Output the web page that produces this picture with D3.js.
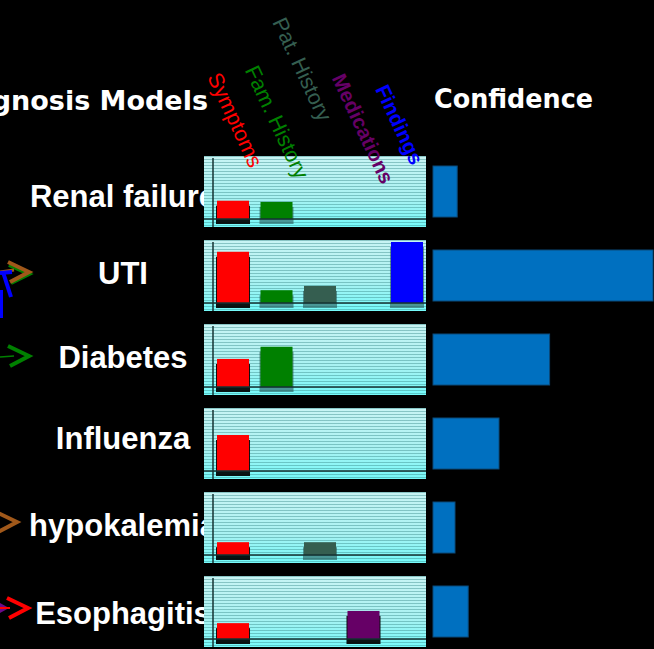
<!DOCTYPE html>
<html>
<head>
<meta charset="utf-8">
<script src="https://cdn.jsdelivr.net/npm/d3@7"></script>
<style>
  html, body { margin: 0; padding: 0; background: #000; }
  svg { display: block; }
</style>
</head>
<body>
<script>
// diagnosis models and the evidence factors
const diagnoses = ["Renal failure", "UTI", "Diabetes", "Influenza", "hypokalemia", "Esophagitis"];
const factors = ["Symptoms", "Fam. History", "Pat. History", "Medications", "Findings"];

// per-factor contribution for each diagnosis (0..1)
const symptoms    = [0.30, 0.84, 0.46, 0.59, 0.21, 0.26];
const famHistory  = [0.28, 0.21, 0.66, 0,    0,    0];
const patHistory  = [0,    0.28, 0,    0,    0.21, 0];
const medications = [0,    0,    0,    0,    0,    0.46];
const findings    = [0,    1.00, 0,    0,    0,    0];

// overall confidence
const confidence = [0.11, 1.00, 0.53, 0.30, 0.10, 0.16];

let W = 654, H = 649;

let svg = d3.select("body").append("svg")
    .attr("width", W)
    .attr("height", H);

let defs = svg.append("defs");

let grad = defs.append("linearGradient")
    .attr("id", "panelGrad")
    .attr("x1", 0).attr("y1", 0).attr("x2", 0).attr("y2", 1);
grad.append("stop").attr("offset", "0%").attr("stop-color", "#c8f4f4");
grad.append("stop").attr("offset", "60%").attr("stop-color", "#a8f2f2");
grad.append("stop").attr("offset", "100%").attr("stop-color", "#74fafa");

let stripes = defs.append("pattern")
    .attr("id", "stripes")
    .attr("patternUnits", "userSpaceOnUse")
    .attr("width", 8).attr("height", 3);
stripes.append("rect")
    .attr("x", 0).attr("y", 0).attr("width", 8).attr("height", 1)
    .attr("fill", "rgba(50,130,130,0.42)");

let colors = {
    "Symptoms": "#ff0000",
    "Fam. History": "#008000",
    "Pat. History": "#355e50",
    "Medications": "#660066",
    "Findings": "#0000ff"
};
let shadows = {
    "Symptoms": "rgba(0,0,0,0.92)",
    "Fam. History": "rgba(30,70,70,0.55)",
    "Pat. History": "rgba(30,70,70,0.55)",
    "Medications": "rgba(0,0,0,0.92)",
    "Findings": "rgba(30,70,70,0.55)"
};

let table = diagnoses.map((d, i) => ({
    diagnosis: d,
    confidence: confidence[i],
    values: [
        { factor: "Symptoms", value: symptoms[i] },
        { factor: "Fam. History", value: famHistory[i] },
        { factor: "Pat. History", value: patHistory[i] },
        { factor: "Medications", value: medications[i] },
        { factor: "Findings", value: findings[i] }
    ].filter(v => v.value > 0)
}));

// layout
let panelX = 204, panelW = 222, panelH = 71, base = 63;

let row = d3.scalePoint()
    .domain(diagnoses)
    .range([156, 576]);

let x = d3.scaleBand()
    .domain(factors)
    .range([panelX + 13, panelX + 219])
    .paddingInner(0.264)
    .paddingOuter(0);

let y = d3.scaleLinear()
    .domain([0, 1])
    .range([base, 2]);

let conf = d3.scaleLinear()
    .domain([0, 1])
    .range([433, 653]);

// header
svg.append("text")
    .attr("x", 208).attr("y", 110)
    .attr("text-anchor", "end")
    .attr("font-family", "DejaVu Sans")
    .attr("font-weight", "bold")
    .attr("font-size", 27)
    .attr("fill", "#fff")
    .text("Diagnosis Models");

svg.append("text")
    .attr("x", 434).attr("y", 108)
    .attr("font-family", "DejaVu Sans")
    .attr("font-weight", "bold")
    .attr("font-size", 26)
    .attr("textLength", 159)
    .attr("lengthAdjust", "spacingAndGlyphs")
    .attr("fill", "#fff")
    .text("Confidence");

// row labels (panels are drawn over them)
let labelDy = { "Renal failure": 51, "Influenza": 41, "Esophagitis": 48 };
svg.selectAll(".rowlabel")
    .data(table)
  .enter().append("text")
    .attr("class", "rowlabel")
    .attr("x", 123)
    .attr("y", d => row(d.diagnosis) + (labelDy[d.diagnosis] || 44))
    .attr("text-anchor", "middle")
    .attr("font-family", "Liberation Sans, Arial, sans-serif")
    .attr("font-weight", "bold")
    .attr("font-size", 31)
    .attr("fill", "#fff")
    .text(d => d.diagnosis);

// arrows coming in from the left (cut off part of the slide)
let arrows = svg.append("g")
    .attr("fill", "none")
    .attr("stroke-width", 4)
    .attr("stroke-linecap", "butt");
function chevron(x0, yc, color) {
    arrows.append("path")
        .attr("d", `M${x0},${yc - 10}L${x0 + 21},${yc}L${x0 + 2},${yc + 10}`)
        .attr("stroke", color);
}
let yU = row("UTI") + 32;
arrows.append("path").attr("d", `M${9},${yU - 8}L${29},${yU + 1}L${11},${yU + 10}`)
    .attr("stroke", "#008000").attr("transform", "translate(0,1)");
chevron(8, yU, "#a0581a");
arrows.append("path").attr("d", `M0,${yU}L14,${yU - 2}`).attr("stroke", "#a0581a").attr("stroke-width", 3);
arrows.append("path").attr("d", `M0,${yU + 1}L12,${yU}`).attr("stroke", "#0000ff");
arrows.append("path").attr("d", `M3,${yU}L11,${yU + 25}`).attr("stroke", "#0000ff");
arrows.append("path").attr("d", `M1,${yU + 18}L1,${yU + 46}`).attr("stroke", "#0000ff");

let yD = row("Diabetes") + 32;
chevron(8, yD, "#008000");
arrows.append("path").attr("d", `M0,${yD + 1}L14,${yD}`).attr("stroke", "#008000").attr("stroke-width", 1.5);

let yH = row("hypokalemia") + 30;
chevron(-4, yH, "#a0581a");

let yE = row("Esophagitis") + 32;
arrows.append("path").attr("d", `M0,${yE - 5}L9,${yE}L0,${yE + 5}Z`)
    .attr("fill", "#6a0a8a").attr("stroke", "none");
arrows.append("path").attr("d", `M0,${yE}L10,${yE}`).attr("stroke", "#ff0000").attr("stroke-width", 2);
chevron(7, yE, "#ff0000");

// panels
let panels = svg.selectAll(".panel")
    .data(table)
  .enter().append("g")
    .attr("class", "panel")
    .attr("transform", d => `translate(0,${row(d.diagnosis)})`);

panels.append("rect")
    .attr("x", panelX).attr("y", 0)
    .attr("width", panelW).attr("height", panelH)
    .attr("fill", "url(#panelGrad)");
panels.append("rect")
    .attr("x", panelX).attr("y", 0)
    .attr("width", panelW).attr("height", panelH)
    .attr("fill", "url(#stripes)");

// bar shadows then bars
panels.selectAll(".shadow")
    .data(d => d.values)
  .enter().append("rect")
    .attr("class", "shadow")
    .attr("x", d => x(d.factor) - 1)
    .attr("y", d => y(d.value) + 5)
    .attr("width", x.bandwidth() + 2)
    .attr("height", d => base - y(d.value))
    .attr("fill", d => shadows[d.factor]);

panels.selectAll(".bar")
    .data(d => d.values)
  .enter().append("rect")
    .attr("class", "bar")
    .attr("x", d => x(d.factor))
    .attr("y", d => y(d.value))
    .attr("width", x.bandwidth())
    .attr("height", d => base - y(d.value))
    .attr("fill", d => colors[d.factor]);

// axes inside panels
panels.append("line")
    .attr("x1", panelX).attr("x2", panelX + panelW)
    .attr("y1", y(0)).attr("y2", y(0))
    .attr("stroke", "#143232").attr("stroke-width", 1.5);
panels.append("line")
    .attr("x1", panelX + 9).attr("x2", panelX + 9)
    .attr("y1", 2).attr("y2", panelH)
    .attr("stroke", "#143232").attr("stroke-width", 1.5);

// confidence bars
svg.selectAll(".conf")
    .data(table)
  .enter().append("rect")
    .attr("class", "conf")
    .attr("x", conf(0))
    .attr("y", d => row(d.diagnosis) + 10)
    .attr("width", d => conf(d.confidence) - conf(0))
    .attr("height", 51)
    .attr("fill", "#0070c0")
    .attr("stroke", "#0b4a7a")
    .attr("stroke-width", 1);

// factor headings, rotated, drawn over the panels
let headPos = {
    "Symptoms": [-10, 77],
    "Fam. History": [-16, 70],
    "Pat. History": [-32, 22],
    "Medications": [-16, 78],
    "Findings": [-16, 89]
};
svg.selectAll(".factor")
    .data(factors)
  .enter().append("text")
    .attr("class", "factor")
    .attr("transform", f => `translate(${x(f) + headPos[f][0]},${headPos[f][1]}) rotate(65)`)
    .attr("font-family", "Liberation Sans, Arial, sans-serif")
    .attr("font-weight", f => (f === "Medications" || f === "Findings") ? "bold" : "normal")
    .attr("font-size", f => (f === "Medications" || f === "Findings") ? 20.5 : 21.5)
    .attr("fill", f => colors[f])
    .text(f => f);
</script>
</body>
</html>
